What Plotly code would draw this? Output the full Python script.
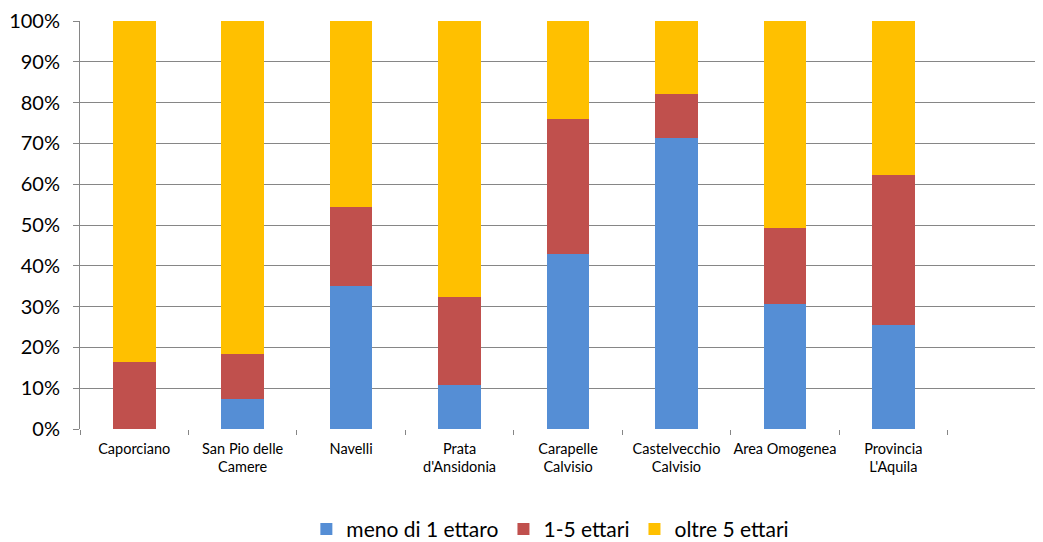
import plotly.graph_objects as go

categories = ["Caporciano", "San Pio delle<br>Camere", "Navelli", "Prata<br>d'Ansidonia",
              "Carapelle<br>Calvisio", "Castelvecchio<br>Calvisio", "Area Omogenea", "Provincia<br>L'Aquila"]
meno_1 = [0.0, 7.4, 35.0, 10.8, 42.9, 71.4, 30.6, 25.5]
da_1_5 = [16.5, 11.0, 19.5, 21.6, 33.1, 10.6, 18.7, 36.8]
oltre_5 = [83.5, 81.6, 45.5, 67.6, 24.0, 18.0, 50.7, 37.7]
series_names = ["meno di 1 ettaro", "1-5 ettari", "oltre 5 ettari"]
colors = ["#558ED5", "#C0504D", "#FFC000"]
y_ticks = [0, 10, 20, 30, 40, 50, 60, 70, 80, 90, 100]

FONT = "Lato"
xs = list(range(len(categories)))

fig = go.Figure()
for name, vals, col in zip(series_names, [meno_1, da_1_5, oltre_5], colors):
    fig.add_trace(go.Bar(x=xs, y=vals, name=name, marker=dict(color=col, line=dict(width=0)),
                         width=0.393))

fig.update_layout(
    barmode="stack",
    width=1043, height=542,
    margin=dict(l=72, r=8, t=13, b=121),
    plot_bgcolor="white", paper_bgcolor="white",
    font=dict(family=FONT, color="#000000"),
    showlegend=True,
    legend=dict(orientation="h", xref="container", yref="container", x=0.52, xanchor="center",
                y=0.038, yanchor="middle", font=dict(size=21, family=FONT), traceorder="normal",
                itemwidth=30),
    xaxis=dict(range=[-0.5, 8.38], tickmode="array", tickvals=xs, ticktext=categories,
               ticks="", showgrid=False, showline=False, zeroline=False, automargin=False,
               ticklabelstandoff=9,
               tickfont=dict(size=14.5, family=FONT),
               minor=dict(tickmode="array", tickvals=[i - 0.5 for i in range(10)], ticks="outside",
                          ticklen=5, tickcolor="#868686", showgrid=False)),
    yaxis=dict(range=[0, 100], tickmode="array", tickvals=y_ticks, automargin=False,
               ticktext=[f"{v}%" for v in y_ticks], showgrid=True, gridcolor="#868686",
               gridwidth=1, showline=True, linecolor="#868686", linewidth=1,
               ticks="outside", ticklen=6, tickcolor="#868686", zeroline=False,
               ticklabelstandoff=9,
               tickfont=dict(size=20, family=FONT)),
)
fig.write_html("out.html")
